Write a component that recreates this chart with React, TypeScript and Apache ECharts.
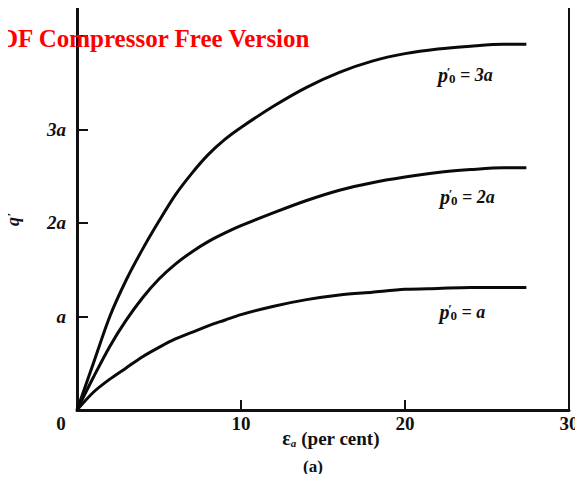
import React, { useEffect, useRef } from "react";
import * as echarts from "echarts";

// strain epsilon_a (per cent)
const strain = [0, 1, 2, 3, 4, 5, 6, 7, 8, 9, 10, 12, 14, 16, 18, 20, 22, 24, 26, 27.4];
// q' for p'0 = 3a, 2a, a (in units of a)
const q3a = [0, 0.5, 1.0, 1.39, 1.72, 2.02, 2.3, 2.53, 2.73, 2.89, 3.02, 3.25, 3.45, 3.61, 3.73, 3.81, 3.86, 3.89, 3.91, 3.91];
const q2a = [0, 0.35, 0.68, 0.96, 1.2, 1.4, 1.56, 1.69, 1.8, 1.89, 1.97, 2.11, 2.24, 2.35, 2.43, 2.49, 2.54, 2.57, 2.59, 2.59];
const q1a = [0, 0.19, 0.33, 0.45, 0.57, 0.67, 0.76, 0.83, 0.9, 0.96, 1.02, 1.11, 1.18, 1.23, 1.26, 1.29, 1.3, 1.31, 1.31, 1.31];
const curveNames = ["3a", "2a", "a"];
const yTickLabels = ["", "a", "2a", "3a"];

const SERIF = "'Liberation Serif', 'DejaVu Serif', serif";

export default function App() {
  const ref = useRef<HTMLDivElement>(null);
  useEffect(() => {
    if (!ref.current) return;
    const chart = echarts.init(ref.current, null, { renderer: "svg" });
    const rich = {
      p: { fontFamily: SERIF, fontStyle: "italic", fontWeight: "bold", fontSize: 20, color: "#111" },
      s: { fontFamily: SERIF, fontWeight: "bold", fontSize: 13, color: "#111", verticalAlign: "top", width: 1 },
      z: { fontFamily: SERIF, fontWeight: "bold", fontSize: 13, color: "#111", verticalAlign: "bottom" },
      t: { fontFamily: SERIF, fontStyle: "italic", fontWeight: "bold", fontSize: 18, color: "#111" },
    };
    const offsets = [[-61, 31], [-59, 29], [-64, 25]];
    const datasets = [q3a, q2a, q1a];
    const series = datasets.map((d, i) => ({
      type: "line",
      name: curveNames[i],
      data: strain.map((x, j) => [x, d[j]]),
      smooth: 0.3,
      showSymbol: false,
      symbol: "none",
      lineStyle: { color: "#0a0a0a", width: 3 },
      endLabel: {
        show: true,
        distance: 0,
        offset: offsets[i],
        align: "center",
        verticalAlign: "middle",
        formatter: () => `{p|p}{s|′}{z|0}{t| = ${curveNames[i]}}`,
        rich,
      },
    }));
    chart.setOption({
      animation: false,
      backgroundColor: "#fff",
      title: {
        text: "(a)",
        left: 303,
        top: 458,
        padding: 0,
        textStyle: { fontFamily: SERIF, fontWeight: "bold", fontSize: 17, color: "#111" },
      },
      grid: {
        left: 77,
        right: 14,
        top: 5,
        bottom: 72,
        outerBoundsMode: "none",
        containLabel: false,
        show: true,
        borderColor: "#111",
        borderWidth: 2,
      },
      xAxis: {
        type: "value",
        min: 0,
        max: 30,
        interval: 10,
        axisLine: { show: true, lineStyle: { color: "#111", width: 3 } },
        axisTick: { show: true, inside: true, length: 10, lineStyle: { color: "#111", width: 2 } },
        splitLine: { show: false },
        axisLabel: {
          margin: 4,
          fontFamily: SERIF,
          fontWeight: "bold",
          fontSize: 19,
          color: "#111",
          formatter: (v: number) => (v === 0 ? "{z|0}" : String(v)),
          rich: { z: { fontFamily: SERIF, fontWeight: "bold", fontSize: 19, color: "#111", padding: [0, 32, 0, 0] } },
        },
        name: "{e|ε}{a|a} (per cent)",
        nameLocation: "middle",
        nameGap: 18,
        nameMoveOverlap: false,
        nameTextStyle: {
          fontFamily: SERIF,
          fontWeight: "bold",
          fontSize: 19,
          color: "#111",
          padding: [0, 0, 0, 16],
          rich: {
            e: { fontFamily: SERIF, fontWeight: "bold", fontSize: 20, color: "#111" },
            a: { fontFamily: SERIF, fontStyle: "italic", fontWeight: "bold", fontSize: 11, color: "#111", verticalAlign: "bottom" },
          },
        },
      },
      yAxis: {
        type: "value",
        min: 0,
        max: 4.33,
        interval: 1,
        axisLine: { show: true, lineStyle: { color: "#111", width: 3 } },
        axisTick: { show: true, inside: true, length: 11, lineStyle: { color: "#111", width: 2 } },
        splitLine: { show: false },
        axisLabel: {
          margin: 11,
          showMaxLabel: false,
          fontFamily: SERIF,
          fontStyle: "italic",
          fontWeight: "bold",
          fontSize: 19,
          color: "#111",
          formatter: (v: number) => yTickLabels[Math.round(v)] ?? "",
        },
      },
      series,
      graphic: [
        {
          type: "text",
          left: 4,
          top: 212,
          rotation: Math.PI / 2,
          style: {
            text: "q′",
            fontFamily: SERIF,
            fontStyle: "italic",
            fontWeight: "bold",
            fontSize: 18,
            fill: "#111",
          },
        },
        {
          type: "text",
          x: 0,
          y: 38,
          z: 100,
          style: {
            text: "DF Compressor Free Version",
            fontFamily: SERIF,
            fontWeight: "bold",
            fontSize: 25,
            fill: "#ff0000",
            verticalAlign: "middle",
          },
        },
      ],
    });
    return () => chart.dispose();
  }, []);
  return <div ref={ref} style={{ width: 583, height: 482, margin: -8 }} />;
}
